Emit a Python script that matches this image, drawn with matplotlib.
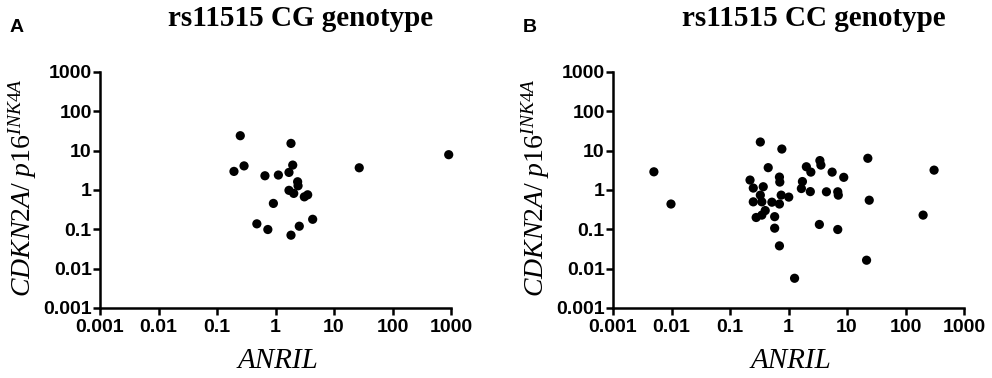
import matplotlib
matplotlib.use('Agg')

import matplotlib.pyplot as plt

# Panel A: rs11515 CG genotype
cg_anril = [0.25, 1.84, 0.195, 0.29, 0.66, 1.12, 1.70, 1.97, 2.39, 2.43, 1.70,
            2.05, 3.11, 3.55, 0.92, 0.48, 0.74, 1.84, 2.55, 4.32, 27, 914]
cg_cdkn2a = [24, 15.3, 2.97, 4.1, 2.3, 2.4, 2.8, 4.3, 1.62, 1.28, 0.98,
             0.82, 0.67, 0.755, 0.456, 0.138, 0.099, 0.071, 0.12, 0.18, 3.67, 7.9]

# Panel B: rs11515 CC genotype
cc_anril = [0.005, 0.0098, 0.33, 0.77, 0.45, 0.22, 0.70, 0.71, 0.37, 0.25, 0.25,
            0.35, 0.33, 0.40, 0.28, 0.35, 0.58, 0.52, 0.75, 0.70, 1.01, 0.58,
            0.70, 1.27, 2.02, 2.41, 3.44, 3.58, 5.57, 8.8, 1.73, 1.66, 2.36,
            4.45, 6.95, 7.1, 22.7, 24, 308, 200, 3.37, 6.95, 21.6]
cc_cdkn2a = [2.9, 0.44, 16.6, 11.0, 3.7, 1.79, 2.13, 1.59, 1.21, 1.12, 0.5,
             0.5, 0.74, 0.30, 0.20, 0.23, 0.21, 0.49, 0.74, 0.44, 0.66, 0.107,
             0.038, 0.0057, 3.9, 2.85, 5.6, 4.3, 2.85, 2.1, 1.64, 1.09, 0.91,
             0.9, 0.9, 0.74, 6.4, 0.55, 3.2, 0.23, 0.133, 0.099, 0.0164]

decades = [0.001, 0.01, 0.1, 1, 10, 100, 1000]
decade_labels = ['0.001', '0.01', '0.1', '1', '10', '100', '1000']

# serif italic mathtext so the digits of p16 come out italic too
plt.rcParams['mathtext.fontset'] = 'custom'
plt.rcParams['mathtext.it'] = 'Liberation Serif:italic'
plt.rcParams['mathtext.rm'] = 'Liberation Serif'

W, H = 992, 378
fig = plt.figure(figsize=(W / 100, H / 100), dpi=100, facecolor='white')

panels = [
    (100, 'A', 'rs11515 CG genotype', cg_anril, cg_cdkn2a),
    (613, 'B', 'rs11515 CC genotype', cc_anril, cc_cdkn2a),
]

for left, letter, title, xs, ys in panels:
    ax = fig.add_axes([left / W, 1 - 308 / H, 351 / W, 236 / H])
    ax.scatter(xs, ys, s=44, color='black', edgecolors='none', zorder=3,
               clip_on=False)
    ax.set_xscale('log')
    ax.set_yscale('log')
    ax.set_xlim(0.001, 1000)
    ax.set_ylim(0.001, 1000)
    ax.set_xticks(decades)
    ax.set_yticks(decades)
    ax.set_xticklabels(decade_labels)
    ax.set_yticklabels(decade_labels)
    ax.minorticks_off()
    for s in ['top', 'right']:
        ax.spines[s].set_visible(False)
    for s in ['left', 'bottom']:
        ax.spines[s].set_linewidth(1.8)
    ax.tick_params(length=5, width=1.8, pad=1, direction='out')
    ax.tick_params(axis='x', pad=3)
    for lab in ax.get_xticklabels() + ax.get_yticklabels():
        lab.set_fontfamily('Liberation Sans')
        lab.set_fontweight('bold')
        lab.set_fontsize(14)

    # axis titles
    fig.text((left - 77) / W, 190 / H,
             r'$\mathit{CDKN2A/\ p16}^{\mathit{INK4A}}$',
             rotation=90, ha='center', va='center', fontsize=20)
    fig.text((left + 178) / W, 1 - 361 / H, 'ANRIL', style='italic',
             family='Liberation Serif', fontsize=21, ha='center', va='center')
    # panel title and letter
    fig.text((left + 201) / W, 1 - 18 / H, title, family='Liberation Serif',
             fontweight='bold', fontsize=21, ha='center', va='center')
    fig.text((left - 90) / W, 1 - 28 / H, letter, family='Liberation Sans',
             fontweight='bold', fontsize=14, ha='left', va='center')

fig.savefig('out.png', dpi=100, facecolor='white')
